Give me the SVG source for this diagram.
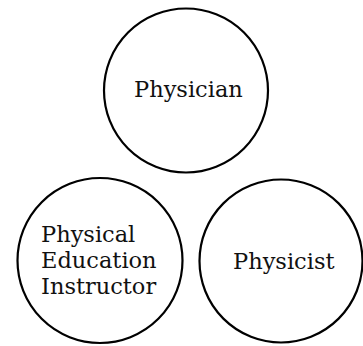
<svg xmlns="http://www.w3.org/2000/svg" width="363" height="346" viewBox="0 0 363 346">
  <style>
    .ring { fill: none; stroke: #000; stroke-width: 2.2; }
    .label { font-family: "DejaVu Serif", "Liberation Serif", serif; font-size: 22.5px; fill: #111; }
  </style>
  <rect width="363" height="346" fill="#fff"/>
  <g id="physician">
    <circle class="ring" cx="186" cy="90.5" r="82"/>
    <text class="label" x="134" y="97">Physician</text>
  </g>
  <g id="physical-education-instructor">
    <circle class="ring" cx="100" cy="260.5" r="82.5"/>
    <text class="label" x="41" y="242">Physical</text>
    <text class="label" x="41" y="268">Education</text>
    <text class="label" x="41" y="294">Instructor</text>
  </g>
  <g id="physicist">
    <circle class="ring" cx="281" cy="261" r="81.5"/>
    <text class="label" x="233" y="269">Physicist</text>
  </g>
  <g id="connectors"/>
</svg>
